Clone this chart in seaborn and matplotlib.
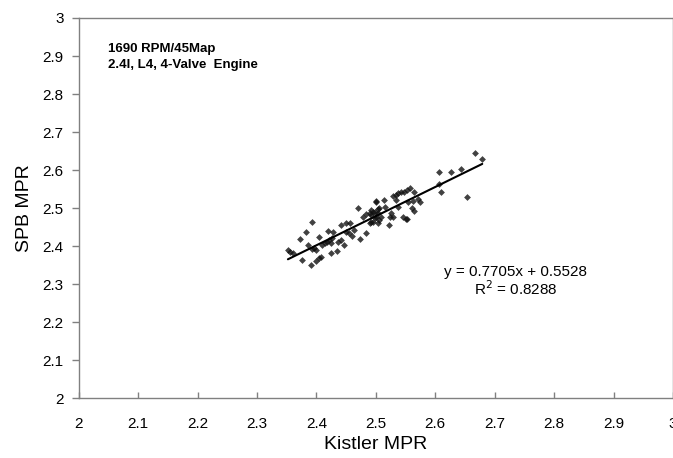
import matplotlib
matplotlib.use("Agg")
import matplotlib.pyplot as plt
import pandas as pd
import seaborn as sns

# ---- data ----
kistler = [2.666, 2.679, 2.606, 2.627, 2.644, 2.607, 2.609, 2.653,
           2.564, 2.557, 2.553, 2.548, 2.543, 2.537, 2.534, 2.528,
           2.571, 2.574, 2.562, 2.554, 2.561, 2.564, 2.546, 2.550, 2.552,
           2.534, 2.537, 2.526, 2.529, 2.523, 2.513, 2.501, 2.515, 2.506,
           2.495, 2.504, 2.492, 2.498, 2.492, 2.509, 2.522, 2.506,
           2.352, 2.356, 2.360, 2.376, 2.390, 2.372, 2.383, 2.392,
           2.386, 2.393, 2.399, 2.396, 2.404, 2.404, 2.400, 2.407,
           2.410, 2.414, 2.418, 2.421, 2.424, 2.426, 2.420, 2.428,
           2.425, 2.434, 2.436, 2.442, 2.446, 2.442, 2.450, 2.456,
           2.449, 2.454, 2.460, 2.470, 2.474, 2.484, 2.478, 2.484,
           2.490, 2.490, 2.495, 2.500, 2.492, 2.498, 2.504, 2.501, 2.504,
           2.464]
spb = [2.646, 2.630, 2.596, 2.595, 2.603, 2.564, 2.542, 2.529,
       2.543, 2.552, 2.548, 2.543, 2.542, 2.541, 2.535, 2.533,
       2.523, 2.517, 2.520, 2.517, 2.500, 2.494, 2.476, 2.472, 2.471,
       2.522, 2.504, 2.487, 2.478, 2.476, 2.522, 2.517, 2.504, 2.500,
       2.491, 2.487, 2.482, 2.474, 2.465, 2.478, 2.456, 2.469,
       2.390, 2.386, 2.383, 2.364, 2.351, 2.419, 2.437, 2.463,
       2.403, 2.392, 2.390, 2.396, 2.425, 2.368, 2.362, 2.373,
       2.403, 2.408, 2.412, 2.417, 2.408, 2.421, 2.441, 2.437,
       2.383, 2.388, 2.412, 2.417, 2.403, 2.456, 2.460, 2.460,
       2.438, 2.434, 2.428, 2.500, 2.419, 2.434, 2.478, 2.484,
       2.488, 2.460, 2.465, 2.519, 2.495, 2.491, 2.497, 2.478, 2.460,
       2.443]

x_ticks = [2.0, 2.1, 2.2, 2.3, 2.4, 2.5, 2.6, 2.7, 2.8, 2.9, 3.0]
x_tick_labels = ["2", "2.1", "2.2", "2.3", "2.4", "2.5", "2.6", "2.7", "2.8", "2.9", "3"]
y_ticks = [2.0, 2.1, 2.2, 2.3, 2.4, 2.5, 2.6, 2.7, 2.8, 2.9, 3.0]
y_tick_labels = ["2", "2.1", "2.2", "2.3", "2.4", "2.5", "2.6", "2.7", "2.8", "2.9", "3"]

x_label = "Kistler MPR"
y_label = "SPB MPR"
note_text = "1690 RPM/45Map\n2.4l, L4, 4-Valve  Engine"
eq_text = "y = 0.7705x + 0.5528"
r2_text = "R$^2$ = 0.8288"

# ---- style ----
sns.set_theme(style="white")
plt.rcParams['font.family'] = ['Liberation Sans', 'DejaVu Sans']

fig = plt.figure(figsize=(6.73, 4.58), dpi=100)
ax = fig.add_axes([0.117, 0.130, 0.883, 0.8307])

df = pd.DataFrame({x_label: kistler, y_label: spb})
sns.regplot(data=df, x=x_label, y=y_label, ci=None, ax=ax, marker="D",
            color="black",
            scatter_kws=dict(s=12, color="#111111", linewidths=0),
            line_kws=dict(color="black", lw=1.5))

ax.set_xlim(2, 3)
ax.set_ylim(2, 3)
ax.set_xticks(x_ticks)
ax.set_xticklabels(x_tick_labels)
ax.set_yticks(y_ticks)
ax.set_yticklabels(y_tick_labels)

ax.tick_params(axis="x", direction="in", length=4, width=1, color="#808080",
               labelsize=11, pad=13, labelcolor="black", bottom=True)
ax.tick_params(axis="y", direction="out", length=5, width=1, color="#808080",
               labelsize=11, pad=6, labelcolor="black", left=True)

for side in ["left", "bottom", "top", "right"]:
    ax.spines[side].set_color("#808080")
    ax.spines[side].set_linewidth(1)
    ax.spines[side].set_visible(True)

ax.set_xlabel(x_label, fontsize=14, labelpad=4, color="black")
ax.set_ylabel(y_label, fontsize=14, labelpad=7, color="black")

ax.text(0.05, 0.935, note_text, transform=ax.transAxes, fontsize=9.5,
        fontweight="bold", va="top", ha="left", linespacing=1.45, color="black")
ax.text(2.735, 2.332, eq_text, fontsize=11, ha="center", va="center", color="black")
ax.text(2.735, 2.288, r2_text, fontsize=11, ha="center", va="center", color="black")

fig.savefig("out.png", dpi=100)
